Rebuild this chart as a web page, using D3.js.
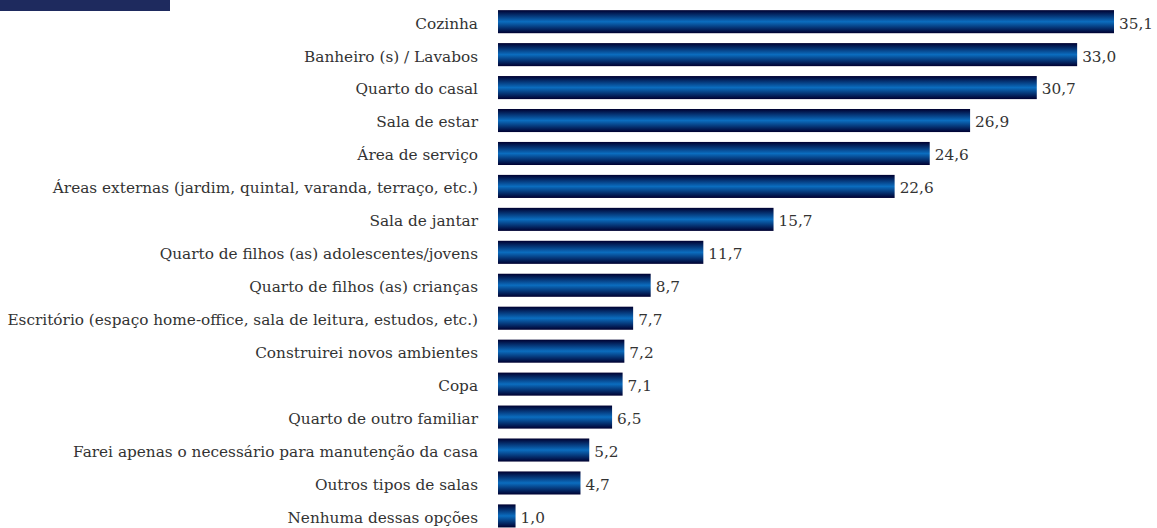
<!DOCTYPE html>
<html lang="pt">
<head>
  <meta charset="utf-8">
  <title>Ambientes</title>
  <script src="https://d3js.org/d3.v7.min.js"></script>
  <style>
    body { margin: 0; background: #fff; }
    svg text { font-family: "DejaVu Serif", serif; fill: #333; }
  </style>
</head>
<body>
<div id="chart"></div>
<script>
  // categories and values
  const categories = [
    "Cozinha",
    "Banheiro (s) / Lavabos",
    "Quarto do casal",
    "Sala de estar",
    "Área de serviço",
    "Áreas externas (jardim, quintal, varanda, terraço, etc.)",
    "Sala de jantar",
    "Quarto de filhos (as) adolescentes/jovens",
    "Quarto de filhos (as) crianças",
    "Escritório (espaço home-office, sala de leitura, estudos, etc.)",
    "Construirei novos ambientes",
    "Copa",
    "Quarto de outro familiar",
    "Farei apenas o necessário para manutenção da casa",
    "Outros tipos de salas",
    "Nenhuma dessas opções"
  ];
  const values = [35.1, 33.0, 30.7, 26.9, 24.6, 22.6, 15.7, 11.7, 8.7, 7.7, 7.2, 7.1, 6.5, 5.2, 4.7, 1.0];

  const width = 1157, height = 528;
  const svg = d3.select("#chart").append("svg")
    .attr("width", width)
    .attr("height", height);

  // gradient for the bars: dark edges, bright middle
  const grad = svg.append("defs").append("linearGradient")
    .attr("id", "barGrad")
    .attr("x1", 0).attr("y1", 0).attr("x2", 0).attr("y2", 1);
  grad.append("stop").attr("offset", "0%").attr("stop-color", "#000030");
  grad.append("stop").attr("offset", "50%").attr("stop-color", "#0b6dbf");
  grad.append("stop").attr("offset", "100%").attr("stop-color", "#000030");

  // dark tab top left
  svg.append("rect")
    .attr("x", 0).attr("y", 0)
    .attr("width", 170).attr("height", 11)
    .attr("fill", "#1e2a5e");

  const x = d3.scaleLinear()
    .domain([0, 35.1])
    .range([498, 1114]);

  const y = d3.scaleBand()
    .domain(categories)
    .range([5.2, 532.4])
    .paddingInner(0.3)
    .paddingOuter(0.15);

  const fmt = v => v.toFixed(1).replace(".", ",");

  svg.selectAll(".bar")
    .data(categories)
    .enter().append("rect")
    .attr("class", "bar")
    .attr("x", x(0))
    .attr("y", d => y(d))
    .attr("width", (d, i) => x(values[i]) - x(0))
    .attr("height", y.bandwidth())
    .attr("fill", "url(#barGrad)");

  svg.selectAll(".label")
    .data(categories)
    .enter().append("text")
    .attr("class", "label")
    .attr("x", 478)
    .attr("y", d => y(d) + y.bandwidth() / 2)
    .attr("dy", "0.45em")
    .attr("text-anchor", "end")
    .style("font-size", "15.3px")
    .text(d => d);

  svg.selectAll(".value")
    .data(categories)
    .enter().append("text")
    .attr("class", "value")
    .attr("x", (d, i) => x(values[i]) + 5)
    .attr("y", d => y(d) + y.bandwidth() / 2)
    .attr("dy", "0.45em")
    .style("font-size", "15.3px")
    .text((d, i) => fmt(values[i]));
</script>
</body>
</html>
